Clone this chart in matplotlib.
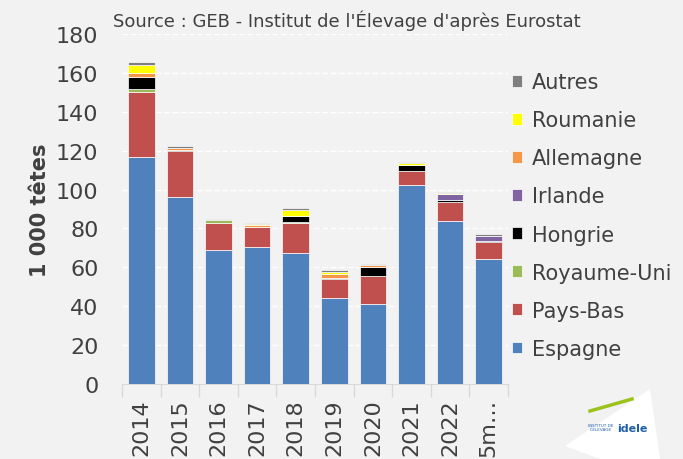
import numpy as np
import matplotlib
matplotlib.use("Agg")
import matplotlib.pyplot as plt
from matplotlib.patches import Polygon

# categories and stacked series (1 000 têtes)
years = ["2014", "2015", "2016", "2017", "2018", "2019", "2020", "2021", "2022", "5m…"]
espagne = [116.8, 96.2, 68.9, 70.6, 67.5, 44.2, 41.0, 102.2, 83.8, 64.3]
pays_bas = [33.5, 23.8, 13.9, 10.0, 15.5, 9.7, 14.7, 7.4, 10.0, 8.6]
royaume_uni = [1.2, 0.0, 1.5, 0.3, 0.3, 0.0, 0.0, 0.0, 0.0, 0.0]
hongrie = [6.4, 0.5, 0.0, 0.0, 2.9, 0.8, 4.7, 2.9, 1.0, 0.8]
irlande = [0.0, 0.0, 0.0, 0.0, 0.0, 0.0, 0.0, 0.0, 2.7, 2.6]
allemagne = [2.1, 1.0, 0.1, 0.7, 0.3, 1.9, 1.0, 0.3, 0.3, 0.0]
roumanie = [4.0, 0.0, 0.0, 0.8, 3.2, 1.0, 0.0, 1.0, 0.4, 0.0]
autres = [1.8, 0.9, 0.6, 0.6, 0.9, 0.9, 0.5, 0.5, 0.3, 0.9]

series = [
    ("Espagne", espagne, "#4F81BD"),
    ("Pays-Bas", pays_bas, "#C0504D"),
    ("Royaume-Uni", royaume_uni, "#9BBB59"),
    ("Hongrie", hongrie, "#000000"),
    ("Irlande", irlande, "#8064A2"),
    ("Allemagne", allemagne, "#F79646"),
    ("Roumanie", roumanie, "#FFFF00"),
    ("Autres", autres, "#7F7F7F"),
]

bg = "#f2f2f2"
txt = "#404040"
plt.rcParams["font.family"] = ["DejaVu Sans"]

fig = plt.figure(figsize=(6.83, 4.60), dpi=100, facecolor=bg)
ax = fig.add_axes([122 / 683, 1 - 385 / 460, 386 / 683, 350 / 460])
ax.set_facecolor(bg)

x = np.arange(len(years))
bottom = np.zeros(len(years))
handles = []
for name, vals, col in series:
    b = ax.bar(x, vals, 0.69, bottom=bottom, color=col, label=name, zorder=3,
               edgecolor="#ffffff", linewidth=0.5)
    handles.append(b)
    bottom += np.array(vals)

ax.set_xlim(-0.5, len(years) - 0.5)
ax.set_ylim(0, 180)
ax.set_yticks(range(0, 181, 20))
ax.yaxis.grid(True, color="white", linestyle=(0, (4, 2)), linewidth=1.0, zorder=0)
for s in ["top", "right", "left"]:
    ax.spines[s].set_visible(False)
ax.spines["bottom"].set_color("#d9d9d9")
ax.tick_params(axis="y", length=0, pad=17, labelsize=16, labelcolor=txt)
ax.set_xticks(x)
ax.set_xticklabels(years, rotation=90, fontsize=16, color=txt)
ax.tick_params(axis="x", length=0, pad=10)
# ticks between categories
ax.set_xticks(np.arange(-0.5, len(years), 1), minor=True)
ax.tick_params(axis="x", which="minor", length=9, color="#d9d9d9", width=1)

fig.text(40 / 683, 1 - 210 / 460, "1 000 têtes", rotation=90, ha="center", va="center",
         fontsize=15, fontweight="bold", color=txt)
fig.text(113 / 683, 1 - 21 / 460, "Source : GEB - Institut de l'Élevage d'après Eurostat",
         ha="left", va="center", fontsize=13, color=txt)

leg = fig.legend(handles[::-1], [s[0] for s in series][::-1], loc="upper left",
                 bbox_to_anchor=(512 / 683, 1 - 73 / 460), frameon=False, fontsize=15,
                 labelcolor=txt, handlelength=0.5, handleheight=0.5, handletextpad=0.45,
                 labelspacing=0.87, borderpad=0, borderaxespad=0)

# idele logo (approximation)
logo = Polygon([[565 / 683, 1 - 447 / 460], [650 / 683, 1 - 390 / 460],
                [660 / 683, 0.0], [600 / 683, 0.0]], closed=True,
               transform=fig.transFigure, facecolor="white", edgecolor="none", joinstyle="round")
fig.patches.append(logo)
fig.lines.append(plt.Line2D([590 / 683, 632 / 683], [1 - 412 / 460, 1 - 400 / 460],
                            transform=fig.transFigure, color="#9BC31C", linewidth=2.5))
fig.text(617 / 683, 1 - 429 / 460, "idele", ha="left", va="center", fontsize=8,
         fontweight="bold", color="#1F5FAA")
fig.text(601 / 683, 1 - 428 / 460, "INSTITUT DE\nL'ÉLEVAGE", ha="center", va="center",
         fontsize=3, color="#1F5FAA", linespacing=1.0)

fig.savefig("out.png", dpi=100, facecolor=bg)
